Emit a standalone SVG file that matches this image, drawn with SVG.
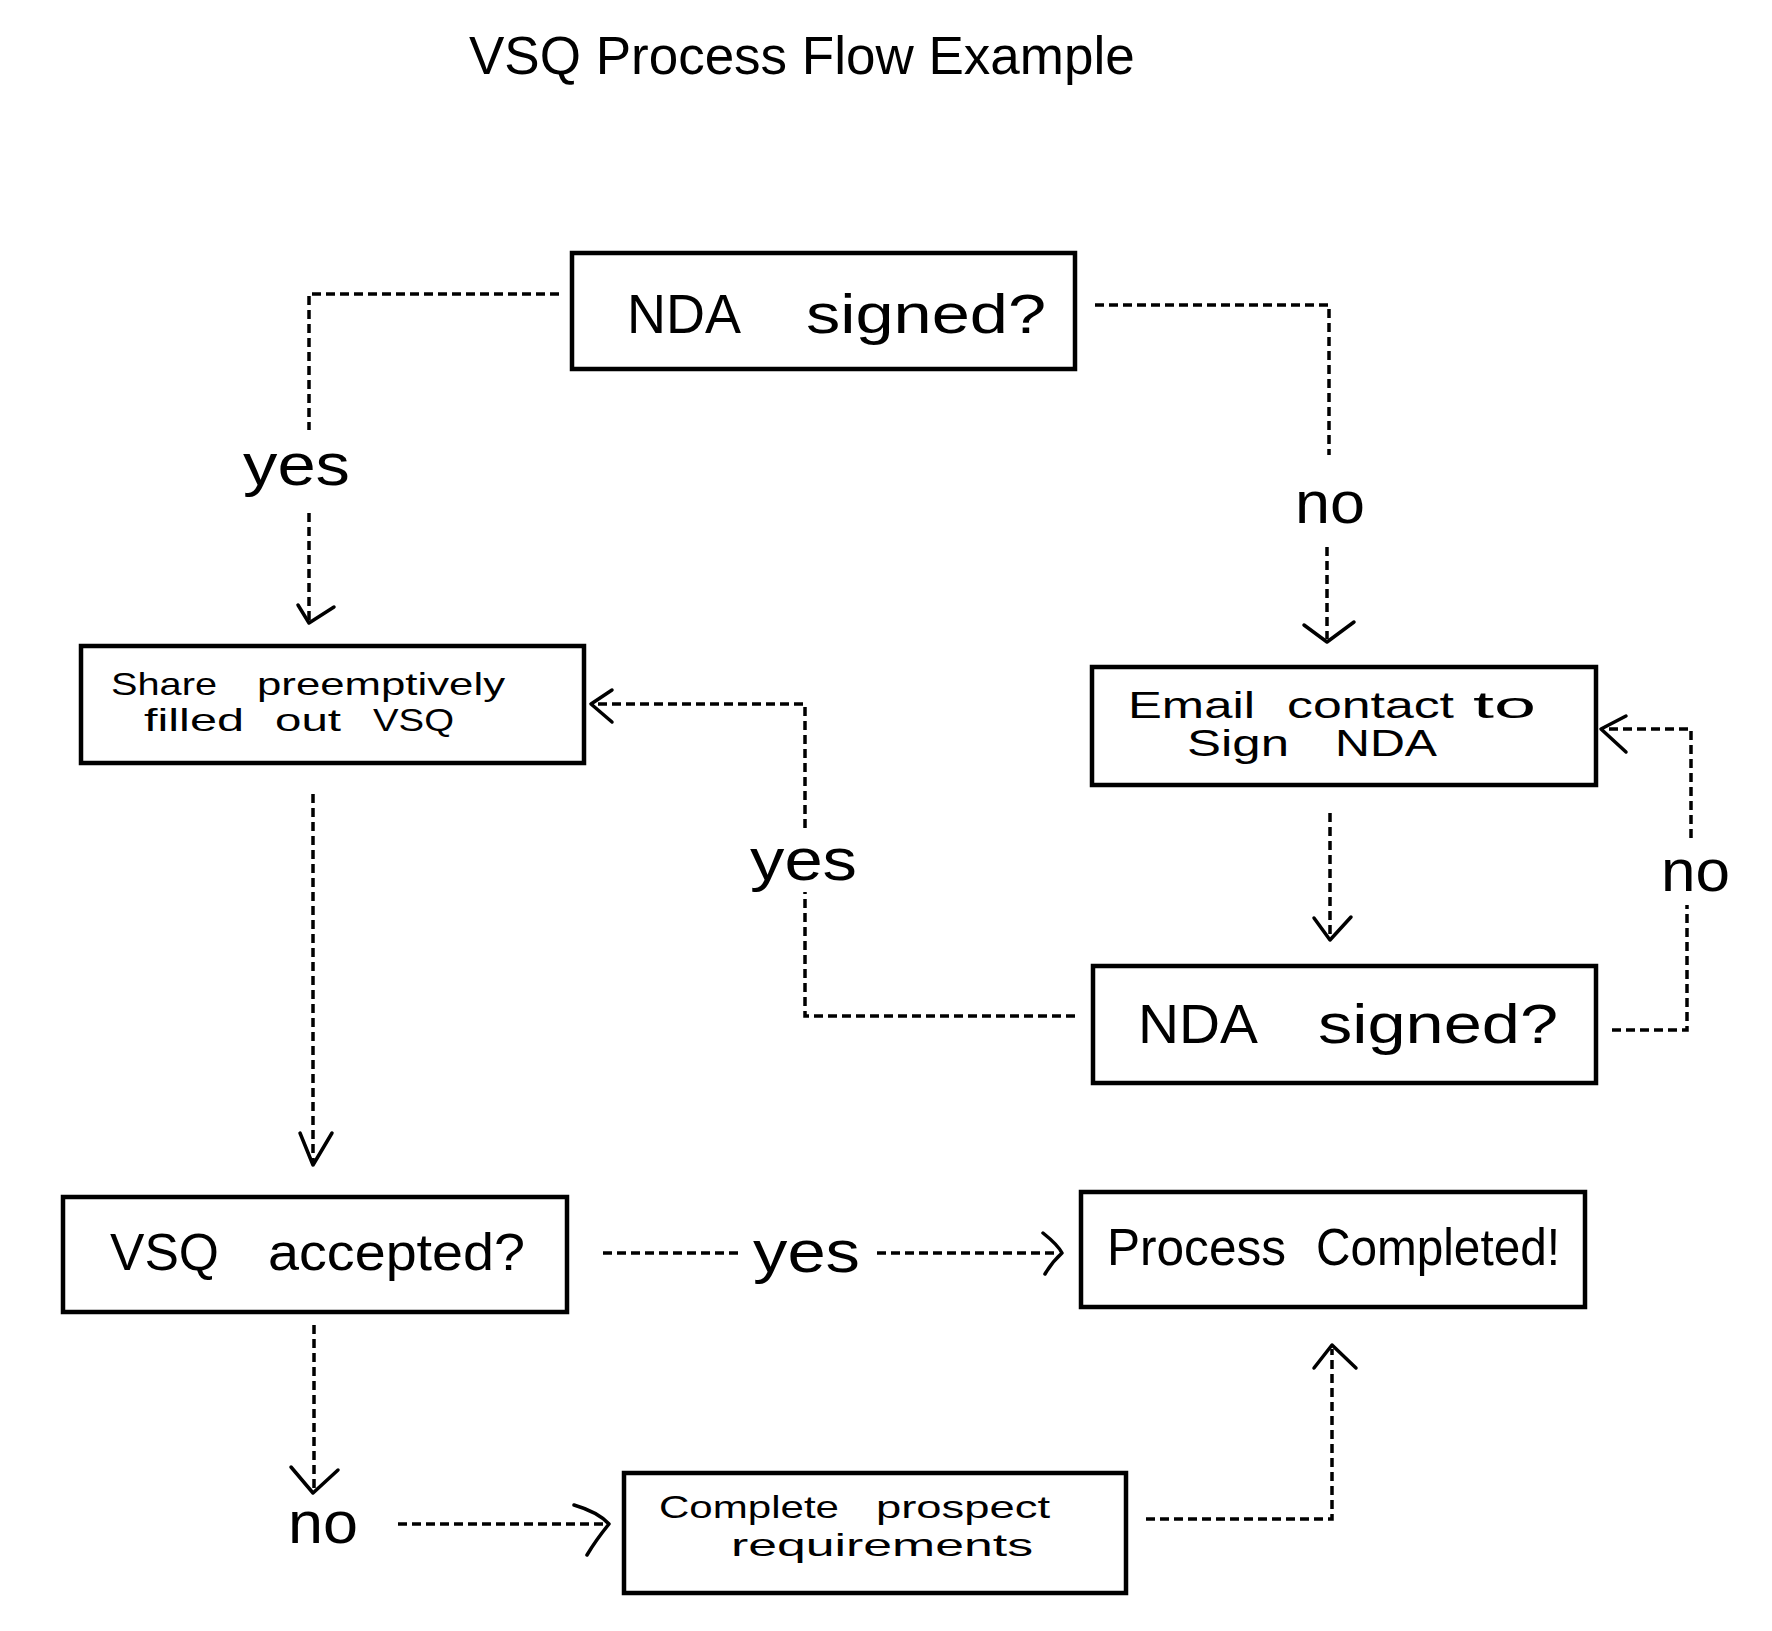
<svg xmlns="http://www.w3.org/2000/svg" width="1772" height="1631" viewBox="0 0 1772 1631">
<style>
.bg{fill:#fff}
.box{fill:#fff;stroke:#000;stroke-width:4.5}
.conn{fill:none;stroke:#000;stroke-width:3.5;stroke-dasharray:9 5}
.head{fill:none;stroke:#000;stroke-width:3.5;stroke-linecap:round;stroke-linejoin:round}
.t{font-family:"Liberation Sans",Arial,sans-serif;fill:#000}
.title{font-family:"Liberation Sans",Arial,sans-serif;font-size:53px;fill:#000}
.big{font-size:56px}
.mid{font-size:52px}
.sm{font-size:36px}
.xs{font-size:32px}
.lbl{font-size:60px}
</style>
<rect class="bg" x="0" y="0" width="1772" height="1631"/>
<text class="title" x="469" y="74">VSQ Process Flow Example</text>

<g id="connectors">
  <!-- NDA signed? (top) -> yes -> Share -->
  <path class="conn" d="M559,294 H309 V430"/>
  <text class="t lbl" x="243" y="485" textLength="107" lengthAdjust="spacingAndGlyphs">yes</text>
  <path class="conn" d="M309,513 V620"/>
  <path class="head" d="M298,605 L309,623 L334,607"/>

  <!-- NDA signed? (top) -> no -> Email -->
  <path class="conn" d="M1095,305 H1329 V455"/>
  <text class="t lbl" x="1295" y="523" textLength="70" lengthAdjust="spacingAndGlyphs">no</text>
  <path class="conn" d="M1327,547 V639"/>
  <path class="head" d="M1304,625 L1327,642 L1354,622"/>

  <!-- Share -> VSQ accepted? -->
  <path class="conn" d="M313,794 V1162"/>
  <path class="head" d="M300,1133 L313,1165 L332,1133"/>

  <!-- Email -> NDA signed? (lower) -->
  <path class="conn" d="M1330,813 V937"/>
  <path class="head" d="M1314,918 L1330,940 L1351,917"/>

  <!-- NDA signed? (lower) -> yes -> Share -->
  <path class="conn" d="M1075,1016 H805 V892"/>
  <text class="t lbl" x="750" y="880" textLength="107" lengthAdjust="spacingAndGlyphs">yes</text>
  <path class="conn" d="M805,828 V704 H594"/>
  <path class="head" d="M612,690 L591,704 L612,722"/>

  <!-- NDA signed? (lower) -> no -> Email -->
  <path class="conn" d="M1612,1030 H1687 V905"/>
  <text class="t lbl" x="1661" y="891" textLength="69" lengthAdjust="spacingAndGlyphs">no</text>
  <path class="conn" d="M1691,838 V729 H1604"/>
  <path class="head" d="M1626,716 L1601,729 L1626,752"/>

  <!-- VSQ accepted? -> yes -> Process Completed -->
  <path class="conn" d="M603,1253 H739"/>
  <text class="t lbl" x="753" y="1272" textLength="107" lengthAdjust="spacingAndGlyphs">yes</text>
  <path class="conn" d="M877,1253 H1058"/>
  <path class="head" d="M1043,1233 Q1058,1245 1062,1253 Q1052,1262 1045,1274"/>

  <!-- VSQ accepted? -> no -> Complete prospect requirements -->
  <path class="conn" d="M314,1325 V1489"/>
  <path class="head" d="M291,1467 L313,1493 L338,1470"/>
  <text class="t lbl" x="288" y="1543" textLength="70" lengthAdjust="spacingAndGlyphs">no</text>
  <path class="conn" d="M398,1524 H604"/>
  <path class="head" d="M574,1505 Q598,1512 609,1524 Q596,1540 587,1555"/>

  <!-- Complete prospect requirements -> Process Completed -->
  <path class="conn" d="M1146,1519 H1332 V1349"/>
  <path class="head" d="M1314,1368 L1332,1345 L1356,1368"/>
</g>

<g id="n-nda-top">
  <rect class="box" x="572" y="253" width="503" height="116"/>
  <text class="t big" x="627" y="333" textLength="114" lengthAdjust="spacingAndGlyphs">NDA</text>
  <text class="t big" x="806" y="333" textLength="240" lengthAdjust="spacingAndGlyphs">signed?</text>
</g>

<g id="n-share">
  <rect class="box" x="81" y="646" width="503" height="117"/>
  <text class="t xs" x="111" y="695" textLength="106" lengthAdjust="spacingAndGlyphs">Share</text>
  <text class="t xs" x="257" y="695" textLength="248" lengthAdjust="spacingAndGlyphs">preemptively</text>
  <text class="t xs" x="144" y="731" textLength="100" lengthAdjust="spacingAndGlyphs">filled</text>
  <text class="t xs" x="275" y="731" textLength="66" lengthAdjust="spacingAndGlyphs">out</text>
  <text class="t xs" x="373" y="731" textLength="81" lengthAdjust="spacingAndGlyphs">VSQ</text>
</g>

<g id="n-email">
  <rect class="box" x="1092" y="667" width="504" height="118"/>
  <text class="t sm" x="1128" y="718" textLength="127" lengthAdjust="spacingAndGlyphs">Email</text>
  <text class="t sm" x="1287" y="718" textLength="167" lengthAdjust="spacingAndGlyphs">contact</text>
  <text class="t sm" x="1473" y="718" textLength="63" lengthAdjust="spacingAndGlyphs">to</text>
  <text class="t sm" x="1187" y="756" textLength="102" lengthAdjust="spacingAndGlyphs">Sign</text>
  <text class="t sm" x="1335" y="756" textLength="102" lengthAdjust="spacingAndGlyphs">NDA</text>
</g>

<g id="n-nda-lower">
  <rect class="box" x="1093" y="966" width="503" height="117"/>
  <text class="t big" x="1138" y="1043" textLength="120" lengthAdjust="spacingAndGlyphs">NDA</text>
  <text class="t big" x="1318" y="1043" textLength="240" lengthAdjust="spacingAndGlyphs">signed?</text>
</g>

<g id="n-vsq">
  <rect class="box" x="63" y="1197" width="504" height="115"/>
  <text class="t mid" x="110" y="1270" textLength="109" lengthAdjust="spacingAndGlyphs">VSQ</text>
  <text class="t mid" x="268" y="1270" textLength="257" lengthAdjust="spacingAndGlyphs">accepted?</text>
</g>

<g id="n-done">
  <rect class="box" x="1081" y="1192" width="504" height="115"/>
  <text class="t mid" x="1107" y="1265" textLength="179" lengthAdjust="spacingAndGlyphs">Process</text>
  <text class="t mid" x="1316" y="1265" textLength="244" lengthAdjust="spacingAndGlyphs">Completed!</text>
</g>

<g id="n-complete">
  <rect class="box" x="624" y="1473" width="502" height="120"/>
  <text class="t xs" x="659" y="1518" textLength="180" lengthAdjust="spacingAndGlyphs">Complete</text>
  <text class="t xs" x="876" y="1518" textLength="174" lengthAdjust="spacingAndGlyphs">prospect</text>
  <text class="t xs" x="731" y="1556" textLength="302" lengthAdjust="spacingAndGlyphs">requirements</text>
</g>
</svg>
